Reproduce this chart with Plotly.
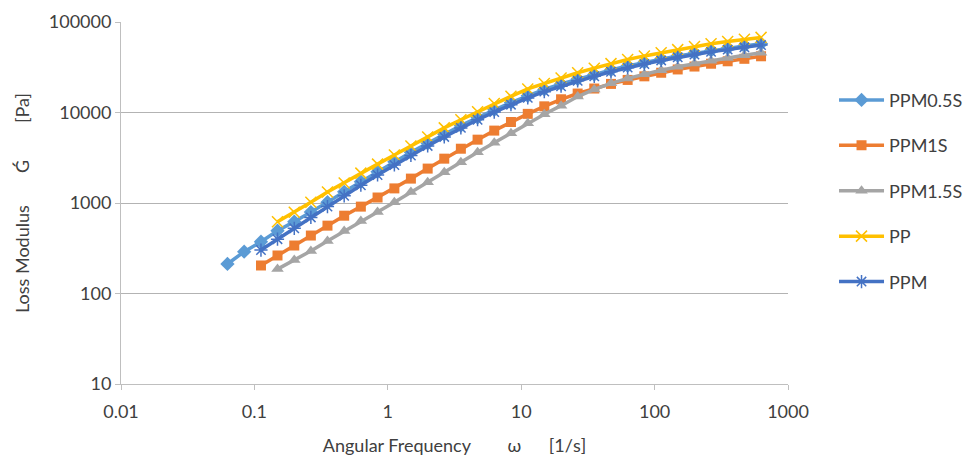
import plotly.graph_objects as go

# Angular frequency [1/s] (8 points per decade, 0.0628 .. 628)
omega = [0.0628, 0.0838, 0.112, 0.149, 0.199, 0.265, 0.353, 0.471, 0.628, 0.838,
         1.12, 1.49, 1.99, 2.65, 3.53, 4.71, 6.28, 8.38, 11.2, 14.9,
         19.9, 26.5, 35.3, 47.1, 62.8, 83.8, 112, 149, 199, 265,
         353, 471, 628]

# Loss modulus G'' [Pa]
ppm05s = [212, 290, 373, 494, 622, 794, 1020, 1330, 1720, 2210,
          2850, 3630, 4570, 5750, 7160, 8810, 10700, 12900, 15300, 18000,
          20700, 23400, 26300, 29500, 32700, 35900, 38900, 42200, 45200, 48400,
          51300, 54300, 57500]
ppm1s = [204, 263, 339, 437, 562, 724, 912, 1150, 1450, 1860,
         2400, 3090, 3980, 5010, 6310, 7850, 9660, 11700, 14000, 16200,
         18400, 20700, 22900, 25100, 27500, 29900, 32200, 34600, 36800, 39200,
         41800]
ppm15s = [186, 234, 295, 380, 490, 631, 794, 1020, 1320, 1700,
          2190, 2820, 3630, 4620, 5890, 7590, 9550, 11900, 15000, 18000,
          21000, 23800, 26500, 29300, 32000, 34700, 37400, 40000, 42800, 45800]
pp = [620, 790, 1020, 1320, 1660, 2140, 2690, 3390, 4270, 5370,
      6760, 8320, 10200, 12600, 15100, 18200, 20900, 24000, 27500, 30900,
      34700, 38500, 42200, 45700, 49500, 53700, 57500, 61000, 64600, 67600]
ppm = [302, 398, 525, 692, 912, 1200, 1570, 2040, 2630, 3350,
       4270, 5370, 6760, 8320, 10100, 12200, 14500, 17000, 19500, 22400,
       25100, 28200, 31300, 34300, 37600, 40700, 43700, 46800, 49500, 52500,
       55600]

names = ["PPM0.5S", "PPM1S", "PPM1.5S", "PP", "PPM"]
x_ticks = [0.01, 0.1, 1, 10, 100, 1000]
x_ticktext = ["0.01", "0.1", "1", "10", "100", "1000"]
y_ticks = [10, 100, 1000, 10000, 100000]
y_ticktext = ["10", "100", "1000", "10000", "100000"]

series = [
    (names[0], omega, ppm05s, "#5B9BD5", dict(symbol="diamond", size=11)),
    (names[1], omega[2:], ppm1s, "#ED7D31", dict(symbol="square", size=10)),
    (names[2], omega[3:], ppm15s, "#A5A5A5", dict(symbol="triangle-up", size=11)),
    (names[3], omega[3:], pp, "#FFC000", dict(symbol="x-thin-open", size=11, line=dict(width=1.5, color="#FFC000"))),
    (names[4], omega[2:], ppm, "#4472C4", dict(symbol="asterisk-open", size=11, line=dict(width=1.5, color="#4472C4"))),
]

FONT = "Lato, 'Open Sans', sans-serif"
TXT = "#404040"
FS = 18
SP = "\u00a0"

fig = go.Figure()
for nm, xs, ys, col, mk in series:
    mk = dict(mk)
    mk["color"] = col
    fig.add_trace(go.Scatter(
        x=xs, y=ys, name=nm, mode="lines+markers",
        line=dict(color=col, width=3.5),
        marker=mk, legendgroup=nm,
    ))

fig.update_layout(
    width=963, height=449,
    margin=dict(l=113, r=183, t=14, b=73, autoexpand=False),
    paper_bgcolor="white", plot_bgcolor="white",
    font=dict(family=FONT, size=FS, color=TXT),
    legend=dict(x=1.069, y=0.835, xanchor="left", yanchor="top",
                traceorder="grouped", tracegroupgap=19,
                font=dict(family=FONT, size=FS, color=TXT),
                bgcolor="rgba(0,0,0,0)", itemwidth=45),
    showlegend=True,
)
fig.update_xaxes(
    type="log", range=[-2, 3], tickvals=x_ticks, ticktext=x_ticktext,
    showgrid=False, showline=True, linecolor="#BFBFBF", linewidth=1,
    ticks="outside", ticklen=5, tickcolor="#BFBFBF", ticklabelstandoff=6,
    tickfont=dict(family=FONT, size=FS, color=TXT),
    title=dict(text="Angular Frequency" + SP * 8 + "ω" + SP * 6 + "[1/s]",
               font=dict(family=FONT, size=FS, color=TXT), standoff=18),
    zeroline=False, automargin=False,
)
fig.update_yaxes(
    type="log", range=[1, 5], tickvals=y_ticks, ticktext=y_ticktext,
    showgrid=True, gridcolor="#B3B3B3", gridwidth=1,
    showline=True, linecolor="#BFBFBF", linewidth=1,
    ticks="outside", ticklen=5, tickcolor="#BFBFBF",
    tickfont=dict(family=FONT, size=FS, color=TXT),
    title=dict(text="Loss Modulus" + SP * 7 + "Ǵ" + SP * 8 + "[Pa]",
               font=dict(family=FONT, size=FS, color=TXT), standoff=14),
    zeroline=False, automargin=False,
)

fig.write_html("out.html")
